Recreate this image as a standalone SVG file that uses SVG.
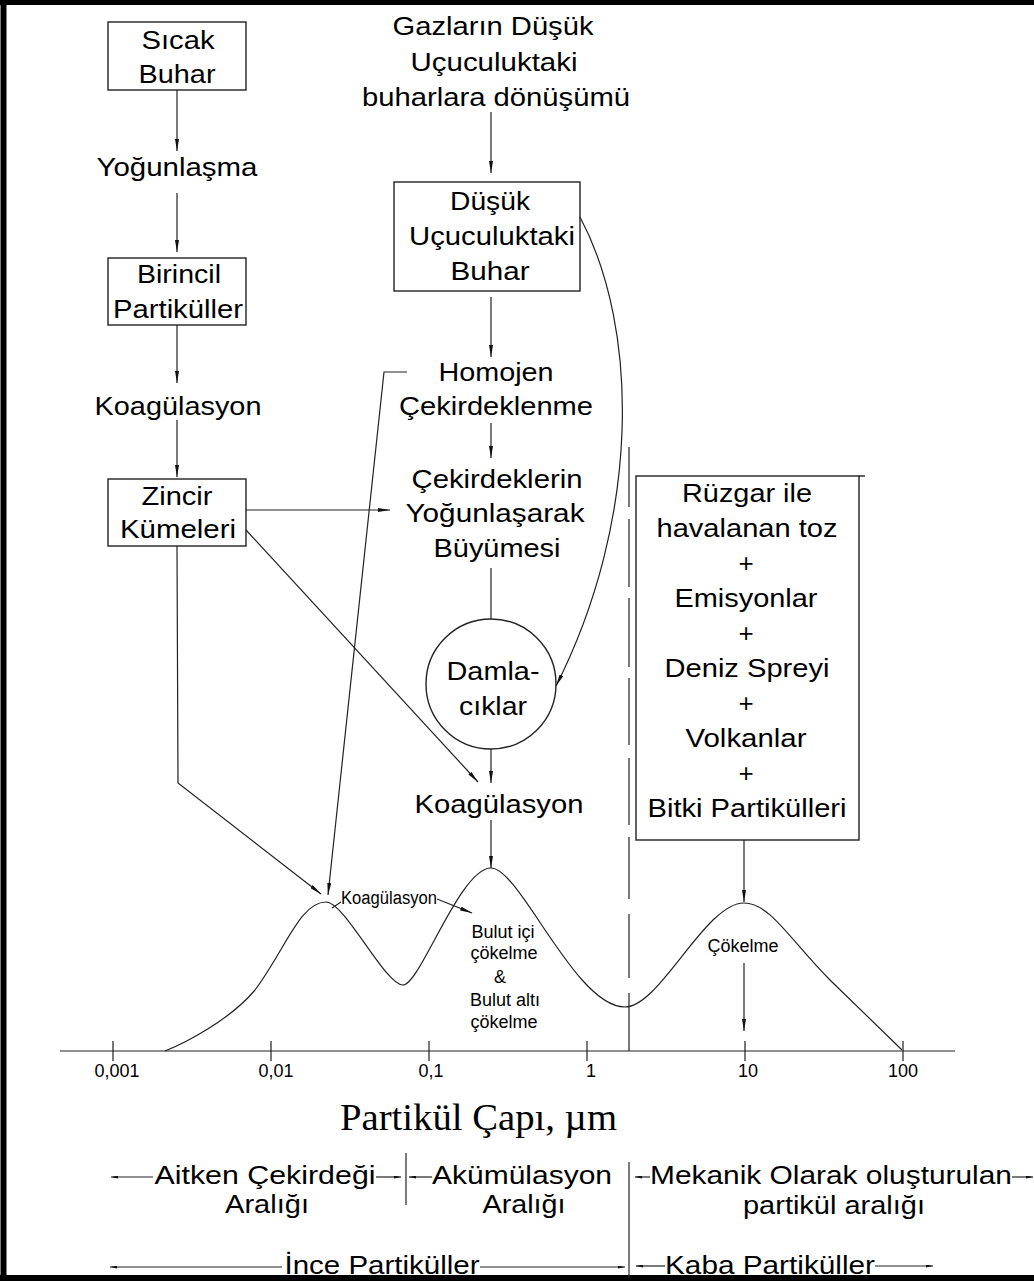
<svg xmlns="http://www.w3.org/2000/svg" width="1034" height="1281" viewBox="0 0 1034 1281">
<defs>
<style>
.t{font-family:"Liberation Sans",Arial,sans-serif;font-size:26px;text-anchor:middle;fill:#000}
.s{font-family:"Liberation Sans",Arial,sans-serif;font-size:18px;text-anchor:middle;fill:#000}
.ser{font-family:"Liberation Serif","Times New Roman",serif;font-size:38.5px;fill:#000}
.box{fill:none;stroke:#222;stroke-width:1.4}
.ln{fill:none;stroke:#222;stroke-width:1.2}
.ar{fill:none;stroke:#222;stroke-width:1.2;marker-end:url(#ah)}
.sa{fill:none;stroke:#222;stroke-width:1.2;marker-end:url(#as)}
.fr{stroke:#000;fill:none}
</style>
<marker id="ah" viewBox="0 0 12 4" refX="12" refY="2" markerWidth="12" markerHeight="4" markerUnits="userSpaceOnUse" orient="auto"><path d="M0,0 L12,2 L0,4 z" fill="#111"/></marker>
<marker id="as" viewBox="0 0 7 3" refX="7" refY="1.5" markerWidth="7" markerHeight="3" markerUnits="userSpaceOnUse" orient="auto"><path d="M0,0 L7,1.5 L0,3 z" fill="#111"/></marker>
</defs>
<rect width="1034" height="1281" fill="#fff"/>
<g id="frame">
<line class="fr" x1="0" y1="2.5" x2="1034" y2="2.5" stroke-width="5"/>
<line class="fr" x1="3.5" y1="0" x2="3.5" y2="1281" stroke-width="6"/>
<line class="fr" x1="0" y1="1278" x2="1034" y2="1278" stroke-width="6"/>
</g>
<g id="connectors">
<line class="ar" x1="177" y1="90" x2="177" y2="151"/>
<line class="ar" x1="177" y1="193" x2="177" y2="252"/>
<line class="ar" x1="177" y1="325" x2="177" y2="383"/>
<line class="ar" x1="177" y1="420" x2="177" y2="477"/>
<line class="ar" x1="246" y1="510" x2="390" y2="510"/>
<path class="ar" d="M177,546 L178,783 L321,894"/>
<line class="ar" x1="246" y1="530" x2="478" y2="782"/>
<path class="ar" d="M407,372 L384,372 L328,895"/>
<line class="ar" x1="491" y1="112" x2="491" y2="173"/>
<line class="ar" x1="491" y1="297" x2="491" y2="357"/>
<line class="ar" x1="491" y1="423" x2="491" y2="458"/>
<line class="ln" x1="491" y1="568" x2="491" y2="619"/>
<line class="ar" x1="491" y1="749" x2="491" y2="783"/>
<line class="ar" x1="491" y1="820" x2="491" y2="868"/>
<path class="ar" d="M580,217 C640,330 640,520 556,686"/>
<line class="ar" x1="744" y1="840" x2="744" y2="902"/>
<line class="ar" x1="744" y1="963" x2="744" y2="1031"/>
<line class="ln" x1="332" y1="908" x2="341" y2="902"/>
<line class="ar" x1="437" y1="899" x2="472" y2="913"/>
<path class="ln" d="M629,447 V507 M629,519 V587 M629,598 V667 M629,678 V745 M629,758 V825 M629,837 V899 M629,914 V978 M629,993 V1051"/>
<line class="ln" x1="629" y1="1162" x2="629" y2="1278"/>
<line class="ln" x1="406" y1="1153" x2="406" y2="1205"/>
<line class="sa" x1="153" y1="1177" x2="111" y2="1177"/>
<line class="sa" x1="376" y1="1177" x2="401" y2="1177"/>
<line class="sa" x1="432" y1="1177" x2="409" y2="1177"/>
<line class="sa" x1="650" y1="1177" x2="635" y2="1177"/>
<line class="sa" x1="1012" y1="1177" x2="1033" y2="1177"/>
<line class="sa" x1="282" y1="1267" x2="110" y2="1267"/>
<line class="sa" x1="480" y1="1267" x2="625" y2="1267"/>
<line class="sa" x1="665" y1="1266" x2="636" y2="1266"/>
<line class="sa" x1="875" y1="1266" x2="933" y2="1266"/>
</g>
<g id="axis">
<line class="ln" x1="60" y1="1051" x2="955" y2="1051"/>
<path class="ln" d="M113,1041 V1061 M271,1041 V1061 M429,1041 V1061 M587,1041 V1061 M745,1041 V1061 M903,1041 V1061"/>
<text class="s" font-size="17" x="117" y="1077">0,001</text>
<text class="s" font-size="17" x="276" y="1077">0,01</text>
<text class="s" font-size="17" x="431" y="1077">0,1</text>
<text class="s" font-size="17" x="591" y="1077">1</text>
<text class="s" font-size="17" x="748" y="1077">10</text>
<text class="s" font-size="17" x="903" y="1077">100</text>
<text class="ser" x="340" y="1130" textLength="277" lengthAdjust="spacingAndGlyphs">Partikül Çapı, µm</text>
</g>
<g id="curve">
<path class="ln" d="M165,1051 C185,1043 230,1020 255,990 C285,950 300,902 326,902 C345,902 385,985 403,985 C420,985 460,868 491,868 C520,868 575,1007 625,1007 C660,1007 705,903 744,903 C770,903 790,940 830,980 L902,1050"/>
</g>
<g id="n-sicak-buhar">
<rect class="box" x="108" y="22" width="138" height="68"/>
<text class="t" x="178" y="49" textLength="73" lengthAdjust="spacingAndGlyphs">Sıcak</text>
<text class="t" x="177" y="83" textLength="77" lengthAdjust="spacingAndGlyphs">Buhar</text>
</g>
<g id="n-yogunlasma">
<text class="t" x="177" y="176" textLength="161" lengthAdjust="spacingAndGlyphs">Yoğunlaşma</text>
</g>
<g id="n-birincil">
<rect class="box" x="108" y="258" width="138" height="67"/>
<text class="t" x="179" y="283" textLength="84" lengthAdjust="spacingAndGlyphs">Birincil</text>
<text class="t" x="178" y="318" textLength="130" lengthAdjust="spacingAndGlyphs">Partiküller</text>
</g>
<g id="n-koagulasyon1">
<text class="t" x="178" y="415" textLength="167" lengthAdjust="spacingAndGlyphs">Koagülasyon</text>
</g>
<g id="n-zincir">
<rect class="box" x="108" y="479" width="138" height="67"/>
<text class="t" x="177" y="505" textLength="71" lengthAdjust="spacingAndGlyphs">Zincir</text>
<text class="t" x="178" y="538" textLength="116" lengthAdjust="spacingAndGlyphs">Kümeleri</text>
</g>
<g id="n-gazlar">
<text class="t" x="493" y="35" textLength="201" lengthAdjust="spacingAndGlyphs">Gazların Düşük</text>
<text class="t" x="494" y="71" textLength="167" lengthAdjust="spacingAndGlyphs">Uçuculuktaki</text>
<text class="t" x="496" y="106" textLength="268" lengthAdjust="spacingAndGlyphs">buharlara dönüşümü</text>
</g>
<g id="n-dusuk-buhar">
<rect class="box" x="394" y="182" width="186" height="109"/>
<text class="t" x="490" y="210" textLength="80" lengthAdjust="spacingAndGlyphs">Düşük</text>
<text class="t" x="492" y="245" textLength="166" lengthAdjust="spacingAndGlyphs">Uçuculuktaki</text>
<text class="t" x="490" y="280" textLength="79" lengthAdjust="spacingAndGlyphs">Buhar</text>
</g>
<g id="n-homojen">
<text class="t" x="496" y="381" textLength="115" lengthAdjust="spacingAndGlyphs">Homojen</text>
<text class="t" x="496" y="415" textLength="194" lengthAdjust="spacingAndGlyphs">Çekirdeklenme</text>
</g>
<g id="n-cekirdeklerin">
<text class="t" x="497" y="488" textLength="171" lengthAdjust="spacingAndGlyphs">Çekirdeklerin</text>
<text class="t" x="495" y="522" textLength="179" lengthAdjust="spacingAndGlyphs">Yoğunlaşarak</text>
<text class="t" x="497" y="557" textLength="127" lengthAdjust="spacingAndGlyphs">Büyümesi</text>
</g>
<g id="n-damlaciklar">
<circle class="box" cx="491" cy="684" r="65"/>
<text class="t" x="493" y="680" textLength="93" lengthAdjust="spacingAndGlyphs">Damla-</text>
<text class="t" x="493" y="715" textLength="68" lengthAdjust="spacingAndGlyphs">cıklar</text>
</g>
<g id="n-koagulasyon2">
<text class="t" x="499" y="813" textLength="169" lengthAdjust="spacingAndGlyphs">Koagülasyon</text>
</g>
<g id="n-ruzgar">
<rect class="box" x="636" y="476" width="223" height="364"/>
<line class="box" x1="859" y1="476" x2="865" y2="476"/>
<text class="t" x="747" y="502" textLength="130" lengthAdjust="spacingAndGlyphs">Rüzgar ile</text>
<text class="t" x="747" y="537" textLength="181" lengthAdjust="spacingAndGlyphs">havalanan toz</text>
<text class="t" x="746" y="572">+</text>
<text class="t" x="746" y="607" textLength="143" lengthAdjust="spacingAndGlyphs">Emisyonlar</text>
<text class="t" x="746" y="642">+</text>
<text class="t" x="747" y="677" textLength="165" lengthAdjust="spacingAndGlyphs">Deniz Spreyi</text>
<text class="t" x="746" y="712">+</text>
<text class="t" x="746" y="747" textLength="121" lengthAdjust="spacingAndGlyphs">Volkanlar</text>
<text class="t" x="746" y="782">+</text>
<text class="t" x="747" y="817" textLength="199" lengthAdjust="spacingAndGlyphs">Bitki Partikülleri</text>
</g>
<g id="n-koag-small">
<text class="s" font-size="17" x="389" y="904" textLength="96" lengthAdjust="spacingAndGlyphs">Koagülasyon</text>
</g>
<g id="n-bulut">
<text class="s" x="503" y="938">Bulut içi</text>
<text class="s" x="504" y="959">çökelme</text>
<text class="s" x="500" y="983">&amp;</text>
<text class="s" x="505" y="1006">Bulut altı</text>
<text class="s" x="504" y="1028">çökelme</text>
</g>
<g id="n-cokelme">
<text class="s" font-size="20" x="743" y="952">Çökelme</text>
</g>
<g id="ranges">
<text class="t" font-size="25" x="265" y="1184" textLength="221" lengthAdjust="spacingAndGlyphs">Aitken Çekirdeği</text>
<text class="t" font-size="25" x="267" y="1213" textLength="84" lengthAdjust="spacingAndGlyphs">Aralığı</text>
<text class="t" font-size="25" x="522" y="1184" textLength="180" lengthAdjust="spacingAndGlyphs">Akümülasyon</text>
<text class="t" font-size="25" x="524" y="1213" textLength="83" lengthAdjust="spacingAndGlyphs">Aralığı</text>
<text class="t" font-size="25" x="831" y="1184" textLength="362" lengthAdjust="spacingAndGlyphs">Mekanik Olarak oluşturulan</text>
<text class="t" font-size="25" x="834" y="1214" textLength="182" lengthAdjust="spacingAndGlyphs">partikül aralığı</text>
<text class="t" x="382" y="1274" textLength="195" lengthAdjust="spacingAndGlyphs">İnce Partiküller</text>
<text class="t" x="770" y="1274" textLength="210" lengthAdjust="spacingAndGlyphs">Kaba Partiküller</text>
</g>
</svg>
